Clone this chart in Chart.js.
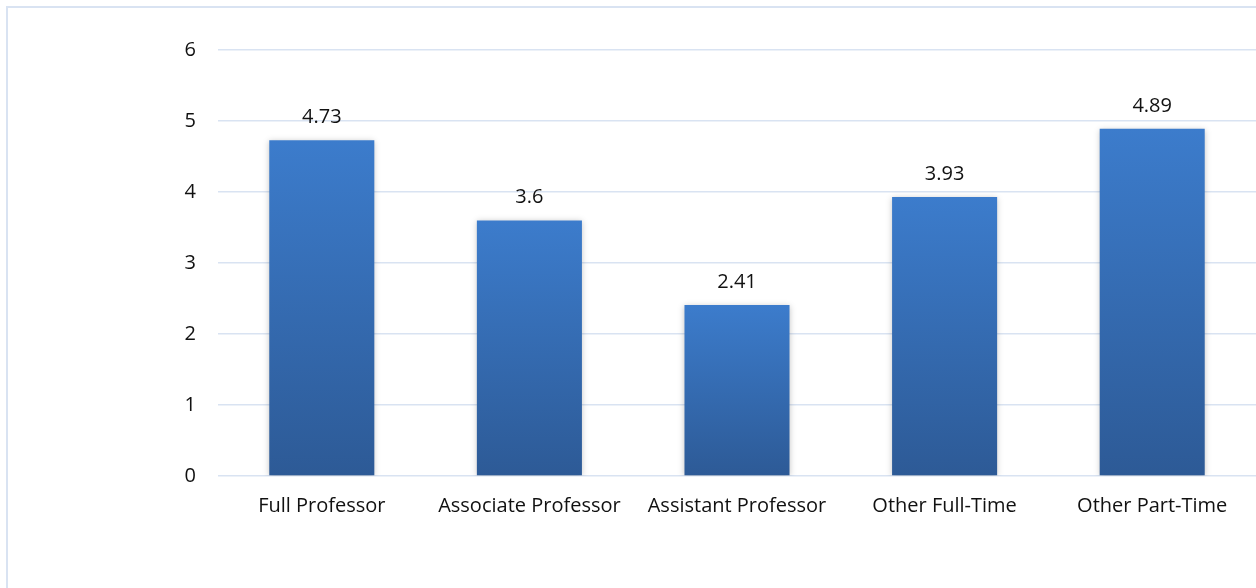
<!DOCTYPE html>
<html>
<head>
<meta charset="utf-8">
<script src="https://cdn.jsdelivr.net/npm/chart.js@4/dist/chart.umd.min.js"></script>
<style>
  html, body { margin: 0; padding: 0; background: #ffffff; overflow: hidden; }
  #wrap { position: relative; width: 1256px; height: 588px; }
  #frame {
    position: absolute; left: 6px; top: 6px; right: -10px; bottom: -10px;
    border-left: 2px solid #d9e3f2; border-top: 2px solid #d9e3f2;
    pointer-events: none;
  }
</style>
</head>
<body>
<div id="wrap">
  <canvas id="chart" width="1256" height="588"></canvas>
  <div id="frame"></div>
</div>
<script>
// Faculty rank categories and their values
const categories = ['Full Professor', 'Associate Professor', 'Assistant Professor', 'Other Full-Time', 'Other Part-Time'];
const values = [4.73, 3.6, 2.41, 3.93, 4.89];
const yTicks = [0, 1, 2, 3, 4, 5, 6];

const FONT = '"Open Sans", Lato, sans-serif';
const FONT_SIZE = 20;

// Vertical gradient per bar, lighter at the top and darker at the base
function barGradient(ctx) {
  const chart = ctx.chart;
  const y = chart.scales && chart.scales.y;
  if (!y || ctx.dataIndex === undefined) return '#3a76c4';
  const top = y.getPixelForValue(values[ctx.dataIndex]);
  const base = y.getPixelForValue(0);
  if (!isFinite(top) || !isFinite(base) || top === base) return '#3a76c4';
  const g = chart.ctx.createLinearGradient(0, top, 0, base);
  g.addColorStop(0, '#3c7ccc');
  g.addColorStop(1, '#2d5a96');
  return g;
}

// Soft shadow around the bars
const barShadow = {
  id: 'barShadow',
  beforeDatasetsDraw(chart) {
    const c = chart.ctx;
    c.save();
    c.shadowColor = 'rgba(0,0,0,0.22)';
    c.shadowBlur = 6;
    c.shadowOffsetX = 0;
    c.shadowOffsetY = 1;
  },
  afterDatasetsDraw(chart) {
    chart.ctx.restore();
  }
};

// Value labels above each bar
const valueLabels = {
  id: 'valueLabels',
  afterDatasetsDraw(chart) {
    const c = chart.ctx;
    const meta = chart.getDatasetMeta(0);
    c.save();
    c.font = FONT_SIZE + 'px ' + FONT;
    c.fillStyle = '#111111';
    c.textAlign = 'center';
    c.textBaseline = 'bottom';
    meta.data.forEach((bar, i) => {
      c.fillText(String(values[i]), bar.x, bar.y - 13);
    });
    c.restore();
  }
};

new Chart(document.getElementById('chart'), {
  type: 'bar',
  data: {
    labels: categories,
    datasets: [{
      data: values,
      backgroundColor: barGradient,
      borderWidth: 0,
      categoryPercentage: 1,
      barPercentage: 0.506
    }]
  },
  options: {
    responsive: false,
    animation: false,
    devicePixelRatio: 1,
    layout: { padding: { top: 50, left: 0, right: 0, bottom: 0 } },
    plugins: { legend: { display: false }, tooltip: { enabled: false } },
    scales: {
      x: {
        grid: { display: false, drawTicks: false },
        border: { display: false },
        ticks: { color: '#111111', font: { family: FONT, size: FONT_SIZE }, padding: 18, maxRotation: 0, autoSkip: false },
        afterFit(s) { s.height = 112; }
      },
      y: {
        min: 0,
        max: 6,
        afterBuildTicks(s) { s.ticks = yTicks.map(v => ({ value: v })); },
        grid: { color: '#d9e3f2', lineWidth: 1.5, drawTicks: false },
        border: { display: false },
        ticks: { color: '#111111', font: { family: FONT, size: FONT_SIZE }, padding: 22 },
        afterFit(s) { s.width = 218; }
      }
    }
  },
  plugins: [barShadow, valueLabels]
});
</script>
</body>
</html>
